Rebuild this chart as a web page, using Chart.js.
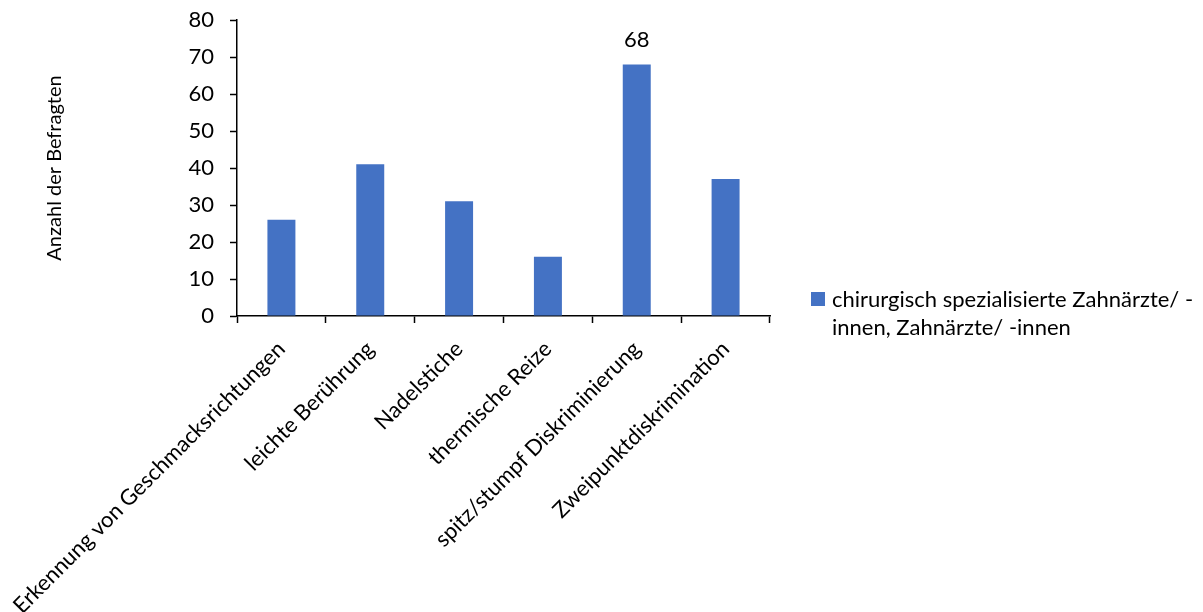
<!DOCTYPE html>
<html>
<head>
<meta charset="utf-8">
<script src="https://cdn.jsdelivr.net/npm/chart.js@4/dist/chart.umd.min.js"></script>
<style>
  html, body { margin: 0; padding: 0; background: #ffffff; }
  #wrap { width: 1203px; height: 612px; }
</style>
</head>
<body>
<div id="wrap"><canvas id="c" width="1203" height="612"></canvas></div>
<script>
const categories = [
  'Erkennung von Geschmacksrichtungen',
  'leichte Berührung',
  'Nadelstiche',
  'thermische Reize',
  'spitz/stumpf Diskriminierung',
  'Zweipunktdiskrimination'
];
const values = [26, 41, 31, 16, 68, 37];
const showValueLabel = [false, false, false, false, true, false];
const seriesLabelLines = ['chirurgisch spezialisierte Zahnärzte/ -', 'innen, Zahnärzte/ -innen'];
const yTitle = 'Anzahl der Befragten';
const yMin = 0, yMax = 80, yStep = 10;

const FONT = 'Lato, Carlito, Calibri, "Open Sans", sans-serif';
const TXT = '#000000';
const BAR = '#4472C4';

const valueLabelPlugin = {
  id: 'valueLabels',
  afterDatasetsDraw(chart) {
    const ctx = chart.ctx;
    const meta = chart.getDatasetMeta(0);
    ctx.save();
    ctx.font = '22px ' + FONT;
    ctx.fillStyle = TXT;
    ctx.textAlign = 'center';
    ctx.textBaseline = 'alphabetic';
    meta.data.forEach((bar, i) => {
      if (!showValueLabel[i]) return;
      ctx.fillText(String(values[i]), bar.x, bar.y - 17);
    });
    ctx.restore();
  }
};

const sideLegendPlugin = {
  id: 'sideLegend',
  afterDraw(chart) {
    const ctx = chart.ctx;
    const ds = chart.data.datasets[0];
    const x0 = chart.chartArea.right + 41;
    const y0 = 292;
    ctx.save();
    ctx.fillStyle = ds.backgroundColor;
    ctx.fillRect(x0, y0, 14, 14);
    ctx.font = '22px ' + FONT;
    ctx.fillStyle = TXT;
    ctx.textAlign = 'left';
    ctx.textBaseline = 'alphabetic';
    seriesLabelLines.forEach((line, i) => {
      ctx.fillText(line, x0 + 21, 307 + i * 28);
    });
    ctx.restore();
  }
};

new Chart(document.getElementById('c'), {
  type: 'bar',
  data: {
    labels: categories,
    datasets: [{
      label: seriesLabelLines.join(''),
      data: values,
      backgroundColor: BAR,
      borderWidth: 0,
      barPercentage: 1,
      categoryPercentage: 0.315
    }]
  },
  options: {
    responsive: false,
    animation: false,
    devicePixelRatio: 1,
    layout: { padding: { top: 20, right: 433, left: 0, bottom: 0 } },
    plugins: {
      legend: { display: false },
      tooltip: { enabled: false },
      title: { display: false }
    },
    scales: {
      x: {
        offset: true,
        grid: {
          display: true,
          drawOnChartArea: false,
          drawTicks: true,
          tickLength: 7,
          tickColor: '#000000',
          tickWidth: 1.5,
          offset: true
        },
        border: { display: true, color: '#000000', width: 1.5 },
        ticks: {
          color: TXT,
          font: { family: FONT, size: 22 },
          maxRotation: 45,
          minRotation: 45,
          autoSkip: false,
          padding: 13
        },
        afterFit(scale) {
          scale.height = 296;
          scale.paddingLeft = 0;
          scale.paddingRight = 0;
          scale.paddingTop = 0;
          scale.paddingBottom = 0;
        }
      },
      y: {
        min: yMin,
        max: yMax,
        grid: {
          display: true,
          drawOnChartArea: false,
          drawTicks: true,
          tickLength: 7,
          tickColor: '#000000',
          tickWidth: 1.5
        },
        border: { display: true, color: '#000000', width: 1.5 },
        ticks: {
          stepSize: yStep,
          color: TXT,
          font: { family: FONT, size: 22 },
          padding: 16
        },
        title: {
          display: true,
          text: yTitle,
          color: TXT,
          font: { family: FONT, size: 20 },
          padding: { top: 43, bottom: 0 }
        },
        afterFit(scale) {
          scale.width = 237;
          scale.paddingTop = 0;
          scale.paddingBottom = 0;
        }
      }
    }
  },
  plugins: [valueLabelPlugin, sideLegendPlugin]
});
</script>
</body>
</html>
